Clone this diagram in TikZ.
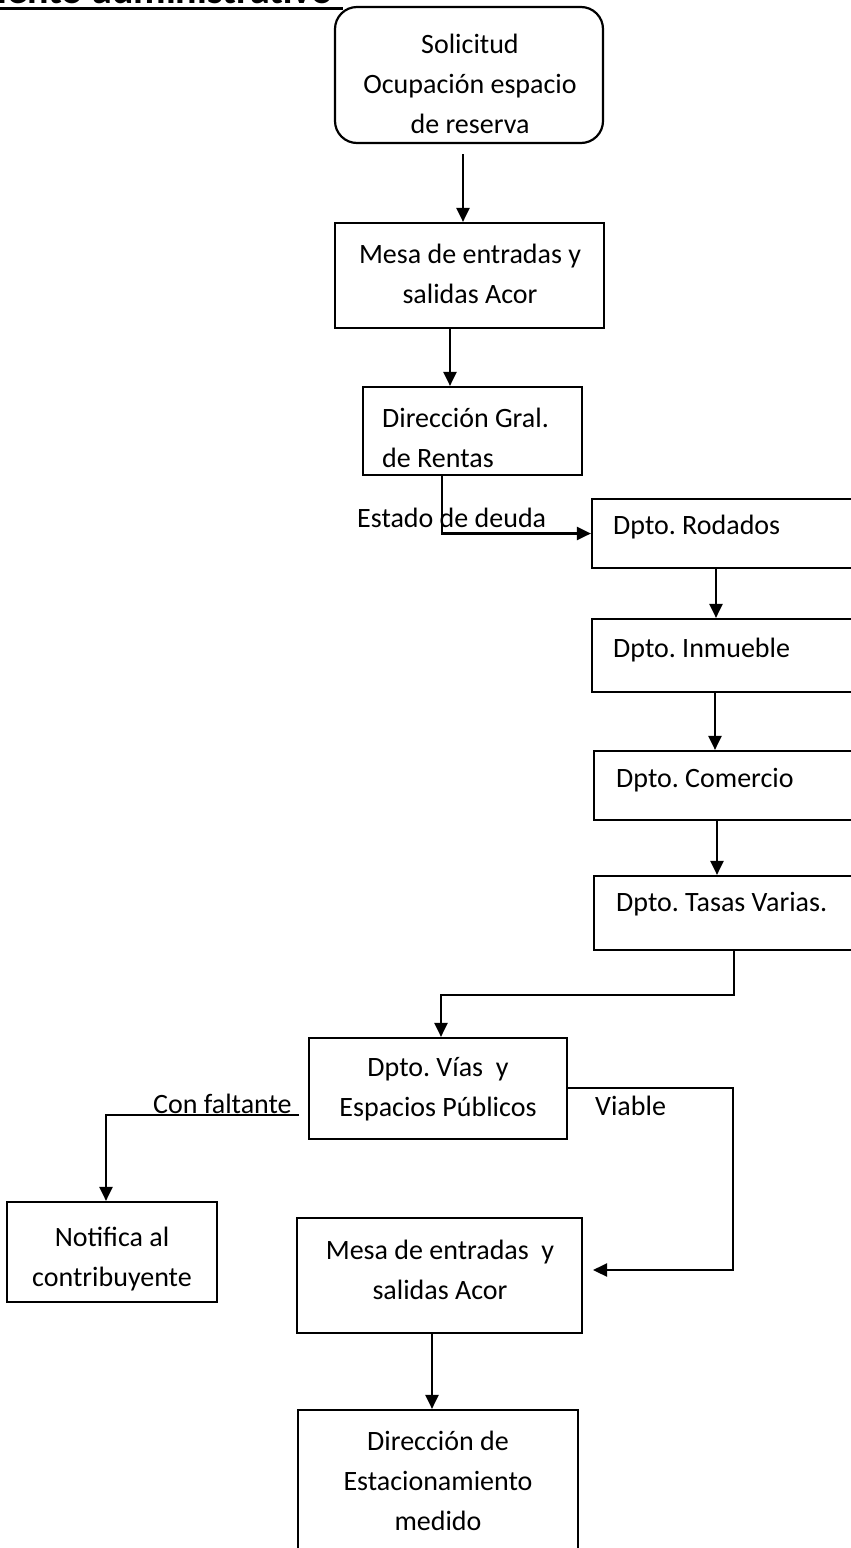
\documentclass[tikz,border=0pt]{standalone}
\usepackage{fontspec}
\setmainfont{Carlito}
\usetikzlibrary{arrows.meta}
\begin{document}
\begin{tikzpicture}[x=1pt,y=-1pt,
  box/.style={draw, line width=2.2pt, inner sep=0pt},
  txt/.style={inner sep=0pt, align=center, font=\fontsize{28}{40}\selectfont},
  ltxt/.style={inner sep=0pt, align=left, font=\fontsize{28}{40}\selectfont},
  conn/.style={line width=2.2pt},
  arr/.style={conn, -{Triangle[width=13pt,length=14pt]}}]
\useasboundingbox (0,0) rectangle (851,1548);
\fill[white] (0,0) rectangle (851,1548);
\clip (0,0) rectangle (851,1548);

% title (cut at top edge, as in the reference)
\node[anchor=base east, inner sep=0pt, font=\bfseries\fontsize{40}{48}\selectfont] (title) at (333,3) {Procedimiento administrativo};
\coordinate (u1) at (0,8.5);
\coordinate (u2) at (343,8.5);
\draw[line width=3pt] (u1) -- (u2);

% boxes
\node[box, rounded corners=22pt, minimum width=268pt, minimum height=136pt] (sol) at (469,75) {};
\node[box, minimum width=269pt, minimum height=105pt] (mesa1) at (469.5,275.5) {};
\node[box, minimum width=219pt, minimum height=88pt] (rentas) at (472.5,431) {};
\node[box, minimum width=288pt, minimum height=69pt] (rod) at (736,533.5) {};
\node[box, minimum width=288pt, minimum height=73pt] (inm) at (736,655.5) {};
\node[box, minimum width=286pt, minimum height=69pt] (com) at (737,785.5) {};
\node[box, minimum width=286pt, minimum height=74pt] (tas) at (737,913) {};
\node[box, minimum width=258pt, minimum height=101pt] (vias) at (438,1088.5) {};
\node[box, minimum width=210pt, minimum height=100pt] (noti) at (112,1252) {};
\node[box, minimum width=285pt, minimum height=115pt] (mesa2) at (439.5,1275.5) {};
\node[box, minimum width=280pt, minimum height=165pt] (dir) at (438,1492.5) {};

% texts
\node[txt] (tsol) at (470,84) {Solicitud\\Ocupación espacio\\de reserva};
\node[txt] (tmesa1) at (470,274) {Mesa de entradas y\\salidas Acor};
\node[ltxt, anchor=west] (trentas) at (382,438) {Dirección Gral.\\de Rentas};
\node[ltxt, anchor=west] (trod) at (613,527) {Dpto.\ Rodados};
\node[ltxt, anchor=west] (tinm) at (613,650) {Dpto.\ Inmueble};
\node[ltxt, anchor=west] (tcom) at (616,780) {Dpto.\ Comercio};
\node[ltxt, anchor=west] (ttas) at (616,904) {Dpto.\ Tasas Varias.};
\node[txt] (tvias) at (438,1089) {Dpto.\ Vías\ \ y\\Espacios Públicos};
\node[txt] (tnoti) at (112,1259) {Notifica al\\contribuyente};
\node[txt] (tmesa2) at (440,1270) {Mesa de entradas\ \ y\\salidas Acor};
\node[txt] (tdir) at (438,1481) {Dirección de\\Estacionamiento\\medido};

% connector x positions
\coordinate (x1) at (463,0);
\coordinate (x2) at (450,0);
\coordinate (x3) at (442,0);
\coordinate (x4) at (716,0);
\coordinate (x5) at (715,0);
\coordinate (x6) at (717,0);
\coordinate (x7) at (432,0);

\draw[arr, shorten <=10pt] (sol.south -| x1) -- (mesa1.north -| x1);
\draw[arr] (mesa1.south -| x2) -- (rentas.north -| x2);
\draw[arr] (rentas.south -| x3) |- (rod.west);
\draw[arr] (rod.south -| x4) -- (inm.north -| x4);
\draw[arr] (inm.south -| x5) -- (com.north -| x5);
\draw[arr] (com.south -| x6) -- (tas.north -| x6);

\coordinate (k1) at (734,995);
\coordinate (k2) at (441,995);
\draw[arr] (tas.south -| k1) -- (k1) -- (k2) -- (vias.north -| k2);

\coordinate (f1) at (299,1115);
\coordinate (f2) at (106,1115);
\draw[arr] (f1) -- (f2) -- (noti.north -| f2);

\coordinate (v1) at (733,1088);
\coordinate (v2) at (733,1270);
\coordinate (v3) at (593,1270);
\draw[arr] (vias.east |- v1) -- (v1) -- (v2) -- (v3);

\draw[arr] (mesa2.south -| x7) -- (dir.north -| x7);

% connector labels
\node[ltxt, anchor=west] (testado) at (357,518) {Estado de deuda};
\node[ltxt, anchor=base west] (tcon) at (153,1113) {Con faltante};
\node[ltxt, anchor=west] (tvia) at (595,1106) {Viable};
\end{tikzpicture}
\end{document}
